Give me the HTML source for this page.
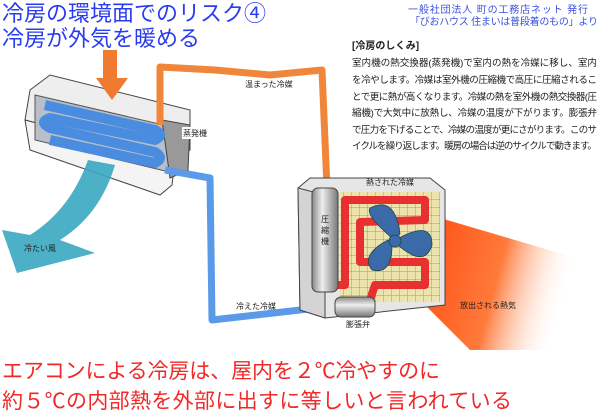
<!DOCTYPE html>
<html><head><meta charset="utf-8"><style>
html,body{margin:0;padding:0;background:#fff;}
svg{display:block;}
text{font-family:"Liberation Sans","Noto Sans CJK JP",sans-serif;}
</style></head><body>
<svg width="600" height="412" viewBox="0 0 600 412" xmlns="http://www.w3.org/2000/svg">
<defs>
<linearGradient id="heat" x1="0" y1="0" x2="1" y2="0.2">
<stop offset="0" stop-color="#ff4a10"/><stop offset="0.5" stop-color="#ff7a3a"/><stop offset="0.9" stop-color="#fff" stop-opacity="0"/>
</linearGradient>
<linearGradient id="cyl" x1="0" y1="0" x2="1" y2="0">
<stop offset="0" stop-color="#888"/><stop offset="0.4" stop-color="#eee"/><stop offset="1" stop-color="#777"/>
</linearGradient>
<linearGradient id="cylh" x1="0" y1="0" x2="0" y2="1">
<stop offset="0" stop-color="#888"/><stop offset="0.4" stop-color="#eee"/><stop offset="1" stop-color="#777"/>
</linearGradient>
<pattern id="grid" width="8" height="8" patternUnits="userSpaceOnUse">
<path d="M8 0V8M0 8H8" stroke="#666" stroke-width="0.7" fill="none"/></pattern>
</defs>

<!-- heat plume -->
<path d="M430 215 L600 265 L600 350 L470 350 L420 300 Z" fill="url(#heat)"/>

<!-- indoor unit -->
<path d="M30 90 L50 75 L190 110 L190 150 L175 160 L25 120 Z" fill="#eee" stroke="#444"/>
<path d="M25 120 L175 160 L172 185 L160 195 L30 150 Z" fill="#f4f4f4" stroke="#444"/>
<path d="M35 95 L185 130 L182 175 L35 140 Z" fill="#b8bfc8" stroke="#555"/>
<path d="M162 120 L190 125 L188 170 L170 178 Z" fill="#999" stroke="#444"/>
<path d="M45 105 L155 130 Q165 135 155 140 L50 118 Q38 122 50 128 L155 152 Q165 158 155 163 L50 140" fill="none" stroke="#4a8de0" stroke-width="10" stroke-linejoin="round"/>
<path d="M103 50 L117 50 L117 78 L128 78 L112 100 L96 78 L103 78 Z" fill="#f07a30"/>
<!-- cyan wind -->
<path d="M88 160 L115 165 Q100 215 60 240 L95 253 L17 273 L2 230 L30 235 Q70 210 88 160 Z" fill="#39a7c0" opacity="0.9"/>

<!-- pipes -->
<path d="M160 125 L160 67 L215 70 L270 75 L322 70 L327 188" fill="none" stroke="#f0863a" stroke-width="7" stroke-linejoin="round"/>
<path d="M165 170 L210 178 L212 320 L335 306" fill="none" stroke="#5a9ae8" stroke-width="7" stroke-linejoin="round"/>

<!-- outdoor unit -->
<path d="M298 188 L310 178 L430 178 L445 190 L445 305 L325 318 L300 310 Z" fill="#e6e6e6" stroke="#444"/>
<path d="M298 188 L325 195 L325 318 L300 310 Z" fill="#d4d4d4" stroke="#444"/>
<rect x="340" y="192" width="100" height="110" fill="url(#grid)"/>
<rect x="340" y="192" width="100" height="110" fill="#ffe000" opacity="0.25"/>
<path d="M330 285 L345 285 L345 200 L425 200 L425 220 L360 222 L360 262 L425 262 L425 285 L375 285 L370 300 L356 303" fill="none" stroke="#e83030" stroke-width="8" stroke-linejoin="round"/>
<g fill="#3b6aa8" stroke="#244" stroke-width="0.8">
<path d="M393 239 Q365 215 370 208 Q395 195 400 234 Z"/>
<path d="M399 238 Q432 220 432 245 Q425 268 399 246 Z"/>
<path d="M392 245 Q392 275 372 270 Q360 255 388 240 Z"/>
<circle cx="395" cy="241" r="6"/>
</g>
<rect x="312" y="188" width="26" height="104" rx="6" fill="url(#cyl)" stroke="#444"/>
<rect x="335" y="297" width="40" height="20" rx="6" fill="url(#cylh)" stroke="#444"/>

<g font-size="8" fill="#222">
<text x="245" y="87">温まった冷媒</text>
<rect x="182" y="127" width="26" height="12" fill="#fff"/>
<text x="183" y="136">蒸発機</text>
<text x="24" y="251">冷たい風</text>
<text x="236" y="309">冷えた冷媒</text>
<text x="366" y="185">熱された冷媒</text>
<text x="346" y="327">膨張弁</text>
<text x="460" y="308">放出される熱気</text>
<text x="321" y="222">圧</text><text x="321" y="233">縮</text><text x="321" y="244">機</text>
</g>

<g fill="#2a3cf0" font-size="22">
<text x="2" y="21">冷房の環境面でのリスク④</text>
<text x="2" y="46">冷房が外気を暖める</text>
</g>
<g fill="#3a50e0" font-size="10">
<text x="408" y="13" textLength="180">一般社団法人 町の工務店ネット 発行</text>
<text x="410" y="25" textLength="188">「びおハウス 住まいは普段着のもの」より</text>
</g>
<text x="352" y="49" font-size="10" font-weight="bold" fill="#222">[冷房のしくみ]</text>
<g font-size="9.6" fill="#222">
<text x="352" y="66" textLength="245">室内機の熱交換器(蒸発機)で室内の熱を冷媒に移し、室内</text>
<text x="352" y="83" textLength="245">を冷やします。冷媒は室外機の圧縮機で高圧に圧縮されるこ</text>
<text x="352" y="100" textLength="245">とで更に熱が高くなります。冷媒の熱を室外機の熱交換器(圧</text>
<text x="352" y="116" textLength="245">縮機)で大気中に放熱し、冷媒の温度が下がります。膨張弁</text>
<text x="352" y="133" textLength="245">で圧力を下げることで、冷媒の温度が更にさがります。このサ</text>
<text x="352" y="149" textLength="245">イクルを繰り返します。暖房の場合は逆のサイクルで動きます。</text>
</g>

<g fill="#f02828" font-size="21">
<text x="2" y="378" textLength="438">エアコンによる冷房は、屋内を２℃冷やすのに</text>
<text x="2" y="408" textLength="510">約５℃の内部熱を外部に出すに等しいと言われている</text>
</g>
</svg>
</body></html>
